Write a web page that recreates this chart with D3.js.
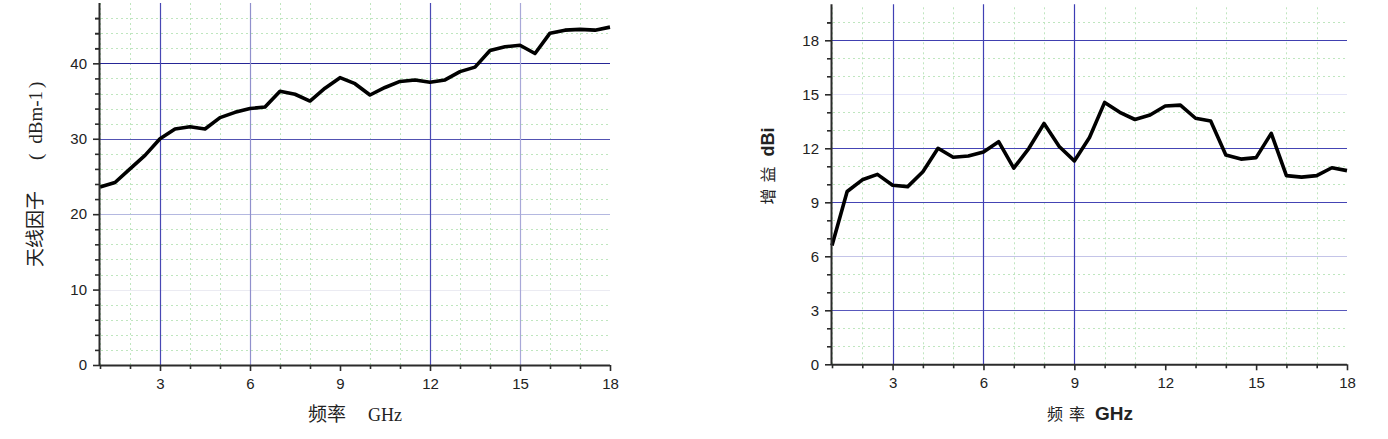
<!DOCTYPE html>
<html><head><meta charset="utf-8">
<script src="https://cdn.jsdelivr.net/npm/d3@7/dist/d3.min.js"></script>
<style>
html,body{margin:0;padding:0;background:#fff;}
svg{display:block;}
</style></head>
<body>
<svg id="c" width="1388" height="439"></svg>
<script>
// ---- data ----
const freqGHz = [1,1.5,2,2.5,3,3.5,4,4.5,5,5.5,6,6.5,7,7.5,8,8.5,9,9.5,10,10.5,11,11.5,12,12.5,13,13.5,14,14.5,15,15.5,16,16.5,17,17.5,18];
const antennaFactor = [23.6,24.2,26.0,27.8,30.0,31.3,31.6,31.3,32.8,33.5,34.0,34.2,36.3,35.9,35.0,36.7,38.1,37.3,35.8,36.8,37.6,37.8,37.5,37.8,38.9,39.5,41.7,42.2,42.4,41.3,44.0,44.4,44.5,44.4,44.8];
const gainDBi = [6.6,9.6,10.25,10.55,9.95,9.87,10.7,12.0,11.5,11.57,11.8,12.37,10.9,12.0,13.38,12.1,11.3,12.6,14.55,14.0,13.6,13.85,14.35,14.4,13.67,13.52,11.63,11.4,11.48,12.83,10.48,10.4,10.48,10.92,10.76];
const xTicks = [3,6,9,12,15,18];
const leftYTicks = [0,10,20,30,40];
const rightYTicks = [0,3,6,9,12,15,18];

const svg = d3.select("#c");

function drawPanel(opt){
  const g = svg.append("g");
  const x = d3.scaleLinear().domain(opt.xDomain).range(opt.xRange);
  const y = d3.scaleLinear().domain(opt.yDomain).range(opt.yRange);
  const [x0,x1] = opt.xRange, [y0,y1] = opt.yRange;

  const xMinor = d3.range(opt.xDomain[0], opt.xDomain[1]+0.001, 1).filter(v=>v%3!==0);
  const yMinor = d3.range(0, opt.yDomain[1], opt.yMinorStep).filter(v=>Math.abs(v%opt.yMajorStep)>1e-6);
  g.append("g").selectAll("line").data(yMinor).join("line")
    .attr("x1",x0+1).attr("x2",x1).attr("y1",d=>Math.round(y(d))+0.5).attr("y2",d=>Math.round(y(d))+0.5)
    .attr("stroke","#bfe6bf").attr("stroke-width",1).attr("stroke-dasharray","2,3");
  g.append("g").selectAll("line").data(xMinor).join("line")
    .attr("x1",d=>Math.round(x(d))+0.5).attr("x2",d=>Math.round(x(d))+0.5).attr("y1",y0).attr("y2",y1)
    .attr("stroke","#bfe6bf").attr("stroke-width",1).attr("stroke-dasharray","2,3");

  g.append("g").selectAll("line").data(opt.hGrid).join("line")
    .attr("x1",x0).attr("x2",x1).attr("y1",d=>Math.round(y(d[0]))+0.5).attr("y2",d=>Math.round(y(d[0]))+0.5)
    .attr("stroke",d=>d[1]).attr("stroke-width",1.2);
  g.append("g").selectAll("line").data(opt.vGrid).join("line")
    .attr("x1",d=>Math.round(x(d[0]))+0.5).attr("x2",d=>Math.round(x(d[0]))+0.5).attr("y1",y0).attr("y2",y1)
    .attr("stroke",d=>d[1]).attr("stroke-width",1.2);

  const line = d3.line().x((d,i)=>x(freqGHz[i])).y(d=>y(d));
  g.append("path").datum(opt.values).attr("d",line)
    .attr("fill","none").attr("stroke","#000").attr("stroke-width",3.6)
    .attr("stroke-linejoin","round").attr("stroke-linecap","butt");

  const ax = d3.axisBottom(x).tickValues(xTicks).tickSize(6).tickPadding(7).tickFormat(d3.format("d"));
  const axG = g.append("g").attr("transform",`translate(0,${y0})`).call(ax);
  const axMinor = d3.axisBottom(x).tickValues(d3.range(opt.xDomain[0],opt.xDomain[1],1).filter(v=>v%3!==0)).tickSize(4).tickFormat("");
  const axmG = g.append("g").attr("transform",`translate(0,${y0})`).call(axMinor);
  const ay = d3.axisLeft(y).tickValues(opt.yTicks).tickSize(7).tickPadding(6).tickFormat(d3.format("d"));
  const ayG = g.append("g").attr("transform",`translate(${x0},0)`).call(ay);
  const ayMinor = d3.axisLeft(y).tickValues(yMinor.concat(d3.range(opt.yTicks[opt.yTicks.length-1]+opt.yMinorStep, opt.yDomain[1], opt.yMinorStep))).tickSize(5).tickFormat("");
  const aymG = g.append("g").attr("transform",`translate(${x0},0)`).call(ayMinor);
  [axG,axmG,ayG,aymG].forEach(a=>{
    a.select(".domain").attr("stroke","#2b2b2b").attr("stroke-width",2);
    a.selectAll(".tick line").attr("stroke","#2b2b2b").attr("stroke-width",1.6);
    a.selectAll("text").attr("fill","#222").style("font-family","'Liberation Sans',Arial,sans-serif").style("font-size","15px");
  });
  ayG.selectAll(".domain").remove(); axG.selectAll(".domain").remove();
  axmG.select(".domain").attr("d",`M${x0},0.5H${x1}`);
  aymG.select(".domain").attr("d",`M-0.5,${y0}V${y1}`);
  return {g,x,y};
}

drawPanel({
  xDomain:[1,18], xRange:[100,610], yDomain:[0,48], yRange:[365,3],
  yTicks:leftYTicks, yMajorStep:10, yMinorStep:2, values:antennaFactor,
  hGrid:[[40,"#262696"],[30,"#5252b2"],[20,"#b4b8e0"],[10,"#ebebf2"]],
  vGrid:[[3,"#4848b4"],[6,"#9090cc"],[12,"#4a4ab4"],[15,"#a8a8d8"]]
});
drawPanel({
  xDomain:[1,18], xRange:[832,1347], yDomain:[0,20], yRange:[364.3,4.3],
  yTicks:rightYTicks, yMajorStep:3, yMinorStep:1, values:gainDBi,
  hGrid:[[18,"#4040b0"],[15,"#e4e4f8"],[12,"#4444b4"],[9,"#4444b4"],[6,"#c4c4e8"],[3,"#5858bc"]],
  vGrid:[[3,"#4040b4"],[6,"#4040b4"],[9,"#3c3cb4"]]
});

const serif = "'Liberation Serif','Noto Sans CJK SC',serif";
const cjk = "'Noto Sans CJK SC',sans-serif";

// left y label: 天线因子 （ dBm-1）
const ly = svg.append("text").attr("transform","translate(42,267) rotate(-90)")
  .attr("text-anchor","start").attr("fill","#222");
ly.append("tspan").style("font-family",cjk).style("font-size","19px").text("天线因子");
ly.append("tspan").attr("dx",31).style("font-family",serif).style("font-size","19px").text("(");
ly.append("tspan").attr("dx",10).style("font-family",serif).style("font-size","19px").text("dBm-1");
ly.append("tspan").attr("dx",3).style("font-family",serif).style("font-size","19px").text(")");

// left x label: 频率 GHz
const lx = svg.append("text").attr("x",308).attr("y",421).attr("text-anchor","start").attr("fill","#222");
lx.append("tspan").style("font-family",cjk).style("font-size","19px").text("频率");
lx.append("tspan").attr("dx",22).style("font-family",serif).style("font-size","18px").text("GHz");

// right y label
const ry = svg.append("text").attr("transform","translate(774,166) rotate(-90)")
  .attr("text-anchor","middle").attr("fill","#222");
ry.append("tspan").style("font-family",cjk).style("font-size","16px").style("letter-spacing","6px").text("增益");
ry.append("tspan").attr("dx",4).style("font-family","'Liberation Sans',Arial,sans-serif").style("font-weight","bold").style("font-size","18px").text("dBi");

// right x label
const rx = svg.append("text").attr("x",1090).attr("y",420).attr("text-anchor","middle").attr("fill","#222");
rx.append("tspan").style("font-family",cjk).style("font-size","16px").style("letter-spacing","6px").text("频率");
rx.append("tspan").attr("dx",4).style("font-family","'Liberation Sans',Arial,sans-serif").style("font-weight","bold").style("font-size","19px").text("GHz");
</script>
</body></html>
